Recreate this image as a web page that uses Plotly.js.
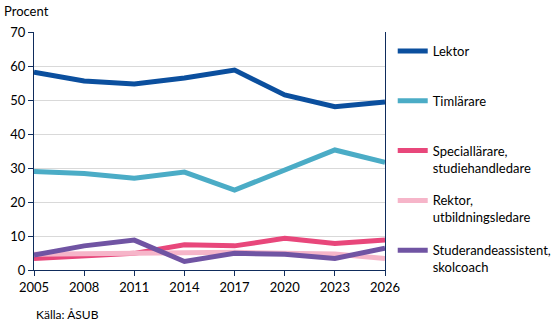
<!DOCTYPE html>
<html>
<head>
<meta charset="utf-8">
<script src="https://cdn.plot.ly/plotly-3.0.1.min.js"></script>
<style>html,body{margin:0;padding:0;background:#fff;}#chart{width:558px;height:328px;}</style>
</head>
<body>
<div id="chart"></div>
<script>
const years = [2005, 2008, 2011, 2014, 2017, 2020, 2023, 2026];
const lektor = [58.2, 55.6, 54.7, 56.5, 58.8, 51.5, 48.0, 49.4];
const timlarare = [29.0, 28.4, 27.0, 28.8, 23.5, 29.4, 35.3, 31.7];
const speciallarare = [3.4, 4.0, 4.9, 7.4, 7.1, 9.3, 7.8, 8.8];
const rektor = [4.6, 4.8, 4.9, 5.1, 5.2, 4.9, 4.7, 3.4];
const studerande = [4.4, 7.1, 8.8, 2.5, 4.9, 4.6, 3.4, 6.4];
const seriesNames = ["Lektor", "Timlärare", "Speciallärare,<br>studiehandledare", "Rektor,<br>utbildningsledare", "Studerandeassistent,<br>skolcoach"];
const seriesData = [lektor, timlarare, speciallarare, rektor, studerande];
const seriesColors = ["#0B4F9E", "#4BACC6", "#E8477B", "#F6B5C9", "#7054A3"];
const yTicks = [0, 10, 20, 30, 40, 50, 60, 70];

const font = "Lato, 'Open Sans', sans-serif";
const traces = seriesData.map((d, i) => ({
  x: years, y: d, type: "scatter", mode: "lines",
  name: seriesNames[i].includes("<br>") ? seriesNames[i] : seriesNames[i] + "<br>&nbsp;",
  legendgroup: "g" + i,
  line: {color: seriesColors[i], width: 5},
  hoverinfo: "x+y"
}));

const layout = {
  width: 558, height: 328,
  margin: {l: 34, r: 173, t: 32, b: 58, autoexpand: false},
  paper_bgcolor: "#fff", plot_bgcolor: "#fff",
  font: {family: font, size: 13, color: "#000"},
  showlegend: true,
  legend: {x: 1.022, y: 0.983, xanchor: "left", yanchor: "top", traceorder: "grouped",
           tracegroupgap: 13, valign: "top", maxheight: 400,
           font: {family: font, size: 13, color: "#000"}},
  xaxis: {range: [2005, 2026], tickvals: years, ticktext: years.map(String),
          showgrid: false, zeroline: false, showline: true, linecolor: "#0F2C5C", linewidth: 1,
          ticks: "outside", ticklen: 5, tickcolor: "#0F2C5C", tickfont: {size: 13}},
  yaxis: {range: [0, 70], tickvals: yTicks, showgrid: true, gridcolor: "#D9D9D9", gridwidth: 1,
          zeroline: false, showline: true, mirror: true, linecolor: "#0F2C5C", linewidth: 1,
          ticks: "outside", ticklen: 5, tickcolor: "#0F2C5C", tickfont: {size: 13}},
  annotations: [
    {text: "Procent", xref: "paper", yref: "paper", x: -0.091, y: 1.088, xanchor: "left", yanchor: "middle",
     showarrow: false, font: {size: 13}},
    {text: "Källa: ÅSUB", xref: "paper", yref: "paper", x: 0, y: -0.185, xanchor: "left", yanchor: "middle",
     showarrow: false, font: {size: 12}}
  ]
};
Plotly.newPlot("chart", traces, layout, {displayModeBar: false, staticPlot: true});
</script>
</body>
</html>
